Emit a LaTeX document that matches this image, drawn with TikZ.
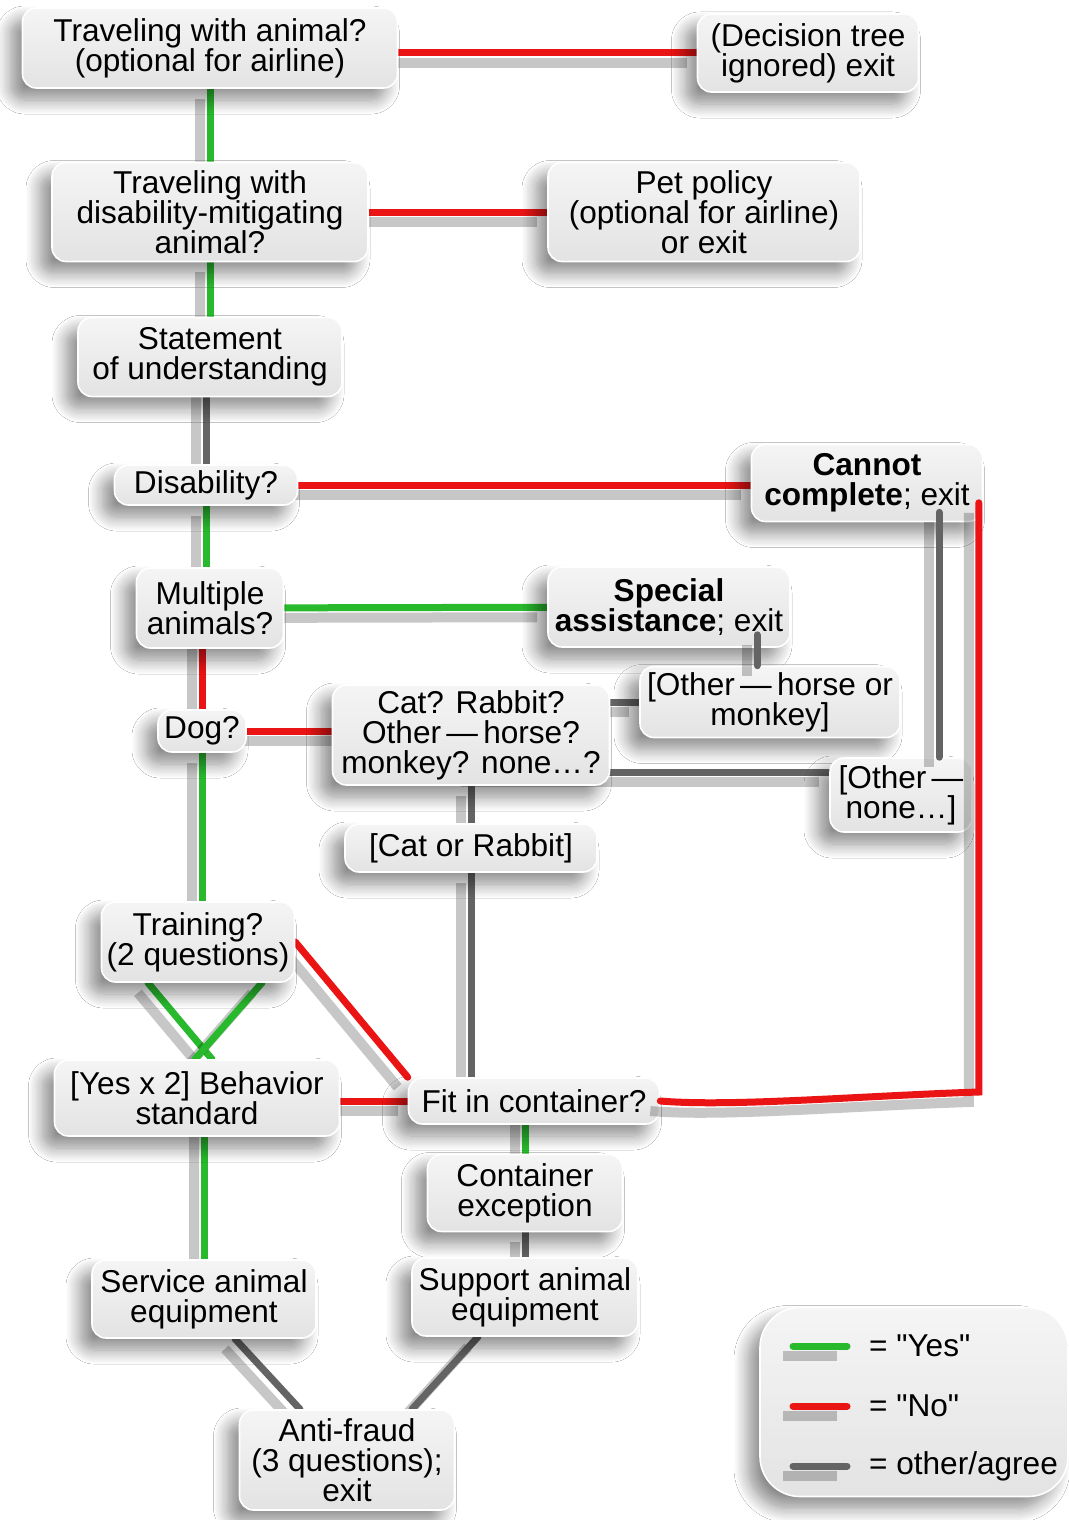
\documentclass[tikz,border=0pt]{standalone}
\usepackage{fontspec}
\setmainfont{Liberation Sans}[Ligatures=TeXOff]
\usepackage{xcolor}
\usepackage{tikz}
\usetikzlibrary{shadows.blur}
\usetikzlibrary{backgrounds}

\definecolor{yesgreen}{RGB}{40,185,45}
\definecolor{nored}{RGB}{235,20,20}
\definecolor{othergray}{RGB}{100,100,100}
\newcommand\boxfont{\fontsize{15.8}{15}\selectfont}

\begin{document}
\begin{tikzpicture}[x=0.5pt,y=-0.5pt,
  box/.style={shape=rectangle, rounded corners=7pt, draw=white, line width=.8pt, top color=black!4, bottom color=black!11, font=\boxfont, align=center, inner sep=2pt, blur shadow={shadow xshift=-6pt, shadow yshift=-6pt, shadow blur radius=7pt, shadow blur steps=12, shadow opacity=45}},
  link/.style={line width=3.5pt, line cap=round, preaction={draw=black, opacity=.22, line width=5pt, transform canvas={shift={(-5pt,-5pt)}}}},
  yes/.style={link, draw=yesgreen},
  no/.style={link, draw=nored},
  other/.style={link, draw=othergray}]

\useasboundingbox (0,0) rectangle (1069,1520);

%% nodes

\node[box, minimum width=187.5pt, minimum height=40pt] (animal) at (210,48) {Traveling with animal?\\(optional for airline)};
\node[box, minimum width=110.5pt, minimum height=39pt] (treeexit) at (808,53) {(Decision tree\\ignored) exit};
\node[box, minimum width=158pt, minimum height=49.5pt] (mitig) at (210,212) {Traveling with\\disability-mitigating\\animal?};
\node[box, minimum width=156pt, minimum height=49.5pt] (pet) at (704,212) {Pet policy\\(optional for airline)\\or exit};
\node[box, minimum width=132pt, minimum height=39.5pt] (stmt) at (210,357) {Statement\\of understanding};
\node[box, minimum width=91.5pt, minimum height=20pt] (disab) at (206,485) {Disability?};
\node[box, minimum width=115.5pt, minimum height=38.5pt] (cannot) at (867,483) {\textbf{Cannot}\\\textbf{complete}; exit};
\node[box, minimum width=73.5pt, minimum height=40pt] (multi) at (210,608) {Multiple\\animals?};
\node[box, minimum width=121pt, minimum height=40pt] (special) at (669,607) {\textbf{Special}\\\textbf{assistance}; exit};
\node[box, minimum width=44pt, minimum height=21pt] (dog) at (202,731) {Dog?};
\node[box, minimum width=138.5pt, minimum height=50pt] (cat) at (471,735) {Cat? Rabbit?\\Other\,—\,horse?\\monkey? none…?};
\node[box, minimum width=130pt, minimum height=35.5pt] (horse) at (770,702) {[Other\,—\,horse or\\monkey]};
\node[box, minimum width=71pt, minimum height=37pt] (none) at (901,795) {[Other\,—\\none…]};
\node[box, minimum width=126pt, minimum height=24pt] (catrab) at (471,848) {[Cat or Rabbit]};
\node[box, minimum width=96.5pt, minimum height=40pt] (train) at (198,942) {Training?\\(2 questions)};
\node[box, minimum width=142.5pt, minimum height=38pt] (behav) at (197,1098) {[Yes x 2] Behavior\\standard};
\node[box, minimum width=125.5pt, minimum height=23pt] (fit) at (534,1101) {Fit in container?};
\node[box, minimum width=97.5pt, minimum height=38.5pt] (contex) at (525,1193) {Container\\exception};
\node[box, minimum width=112pt, minimum height=39pt] (serveq) at (204,1299) {Service animal\\equipment};
\node[box, minimum width=113pt, minimum height=39pt] (suppeq) at (525,1297) {Support animal\\equipment};
\node[box, minimum width=107.5pt, minimum height=50pt] (fraud) at (347,1460) {Anti-fraud\\(3 questions);\\exit};

%% legend
\node[box, minimum width=154pt, minimum height=94.5pt, rounded corners=20pt] (legend) at (914,1402) {};
\node[anchor=west, font=\boxfont] (yeslbl) at (862,1346) {= "Yes"};
\node[anchor=west, font=\boxfont] (nolbl) at (862,1406) {= "No"};
\node[anchor=west, font=\boxfont] (otherlbl) at (862,1466) {= other/agree};
\draw[yes] (793,1346) -- (847,1346);
\draw[no] (793,1406) -- (847,1406);
\draw[other] (793,1466) -- (847,1466);

%% lines
\begin{pgfonlayer}{background}
\fill[white] (0,0) rectangle (1069,1520);
\draw[no] (treeexit.west -| animal.east) -- (treeexit.west);
\draw[yes] (animal) -- (mitig);
\draw[no] (mitig) -- (pet);
\draw[yes] (mitig) -- (stmt);
\draw[other] (disab.north) -- (disab.north |- stmt);
\draw[no] (disab) -- (disab -| cannot.west);
\draw[yes] (disab) -- (disab |- multi.north);
\draw[yes] (multi) -- (special);
\draw[no] (dog) -- (dog |- multi);
\draw[no] (dog) -- (dog -| cat);
\draw[yes] (dog) -- (dog |- train);
\draw[other] (horse) -- (horse -| cat);
\draw[other] ([yshift=11.5pt]none.west) -- ([yshift=11.5pt]none.west -| cat);
\draw[other] (cat) -- (catrab);
\draw[other] (catrab) -- (catrab |- fit);
\draw[yes] ([xshift=-25pt]train.south) -- ([xshift=7.5pt]behav.north);
\draw[yes] ([xshift=32pt]train.south) -- ([xshift=-1pt]behav.north);
\draw[no] (train.east) -- (fit.north west);
\draw[no] (fit.west -| behav.east) -- (fit.west);
\draw[yes] (serveq) -- (serveq |- behav);
\draw[yes] (contex) -- (contex |- fit);
\draw[other] (contex) -- (suppeq);
\draw[other] ([xshift=15.5pt]serveq.south) -- ([xshift=-23.5pt]fraud.north);
\draw[other] ([xshift=-23.5pt]suppeq.south) -- ([xshift=32.5pt]fraud.north);
\end{pgfonlayer}

%% lines on top
\draw[other] ([xshift=-6.5pt]horse.north) -- ([xshift=-6.5pt,yshift=6.5pt]horse.north |- special.south);
\draw[other] ([xshift=19pt]none.north) -- ([xshift=19pt,yshift=5pt]none.north |- cannot.south);
\coordinate (turn) at ([shift={(-2.25pt,4.5pt)}]cannot.east |- fit.east);
\draw[no] (fit.east) .. controls +(70,6) and +(-120,4) .. (turn) -- ([yshift=9.75pt]turn |- cannot.south);

\end{tikzpicture}
\end{document}
